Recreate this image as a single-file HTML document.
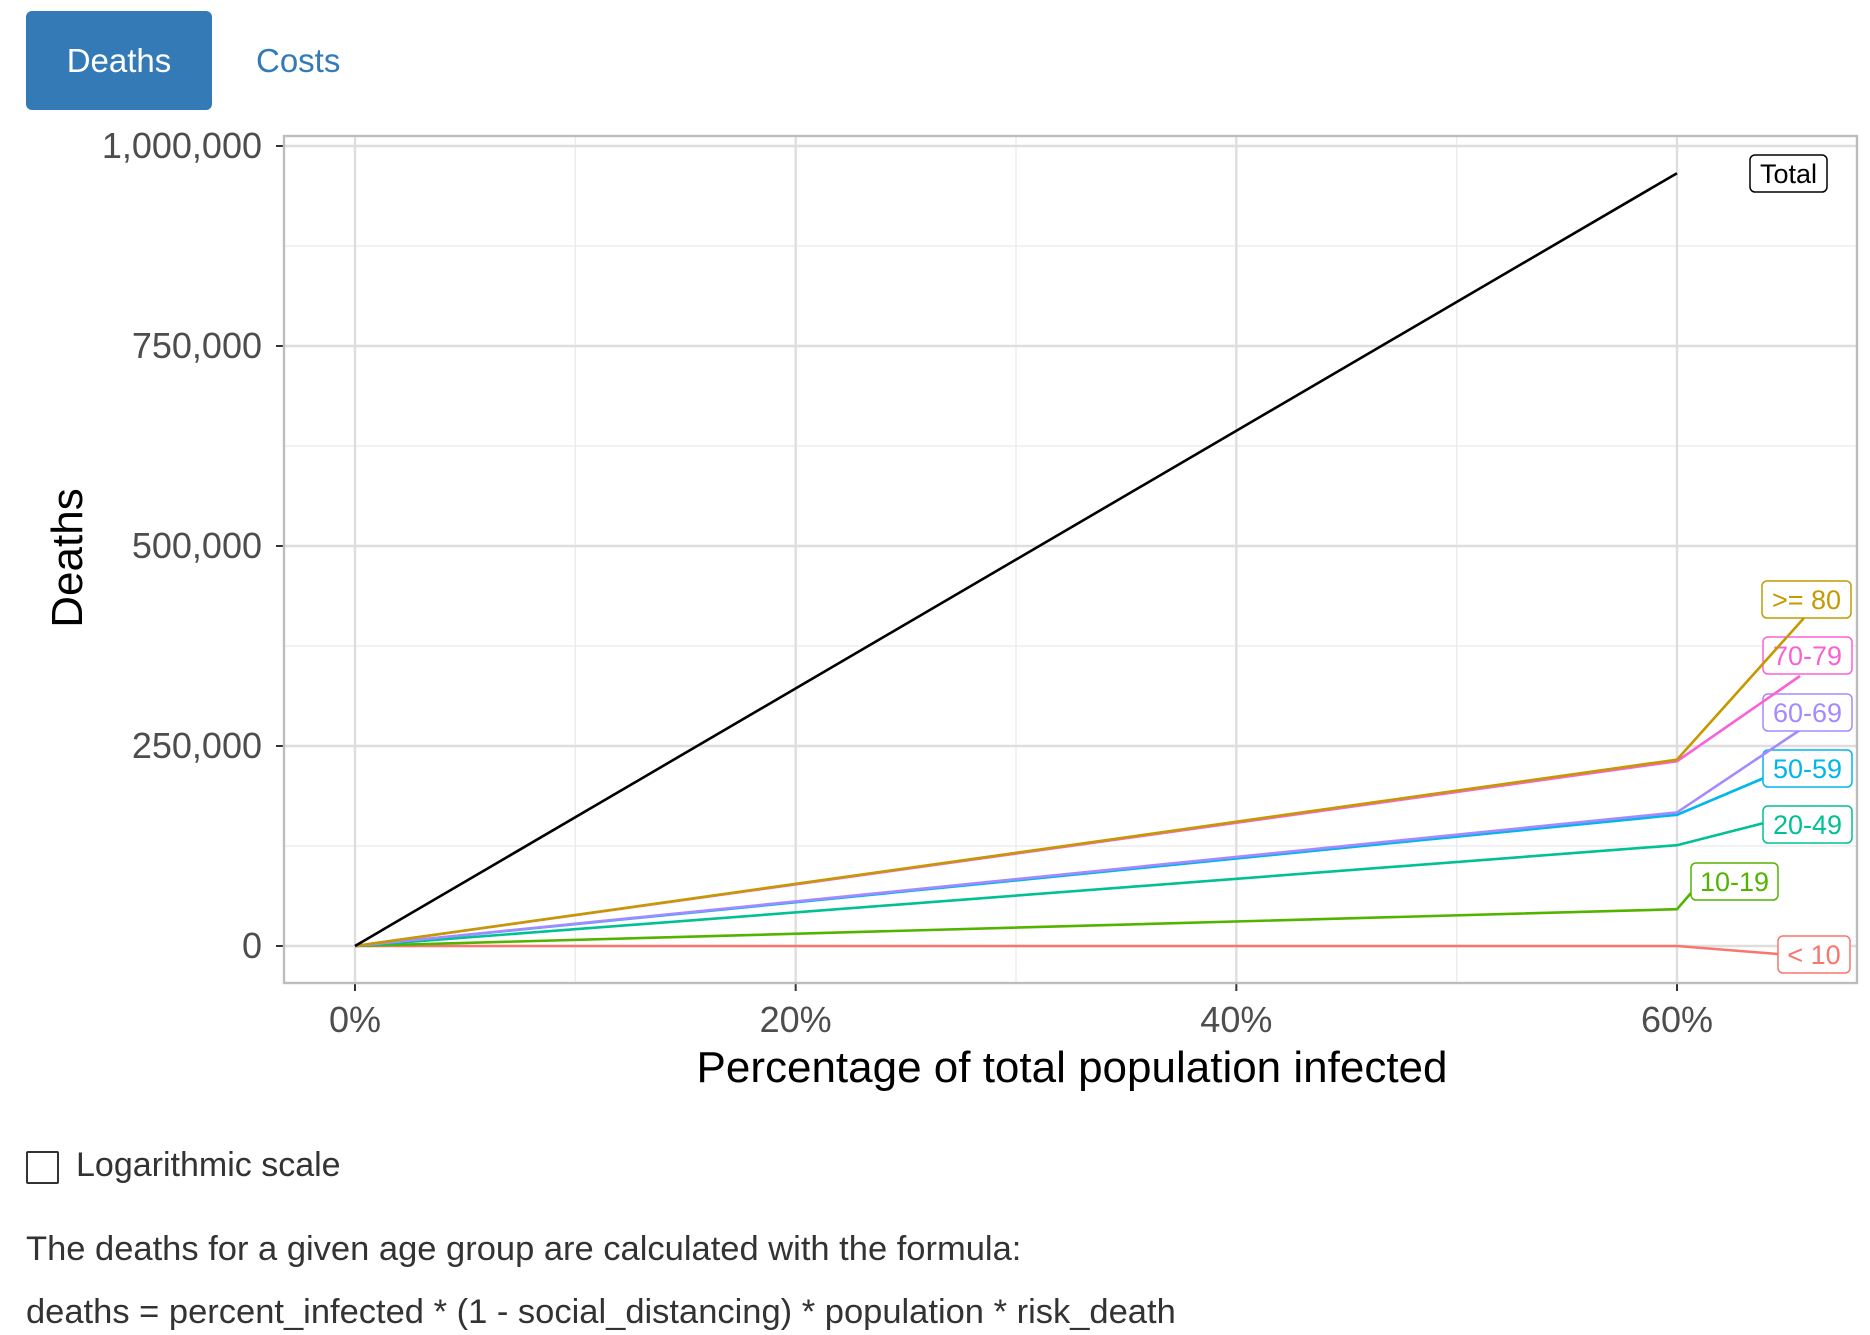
<!DOCTYPE html>
<html><head><meta charset="utf-8"><style>
body{margin:0;width:1870px;height:1335px;background:#fff;font-family:"Liberation Sans",sans-serif;position:relative;overflow:hidden}
.tab{position:absolute;font-size:33px}
</style></head><body>
<div class="tab" style="left:26px;top:11px;width:186px;height:99px;background:#337ab7;border-radius:6px;color:#fff;display:flex;align-items:center;justify-content:center">Deaths</div>
<div class="tab" style="left:256px;top:42px;color:#337ab7">Costs</div>
<svg id="chart" width="1870" height="1120" style="position:absolute;left:0;top:0" font-family="Liberation Sans, sans-serif"></svg>
<div style="position:absolute;left:26px;top:1151px;width:29px;height:29px;border:2px solid #333;border-radius:2px"></div>
<div style="position:absolute;left:76px;top:1146px;font-size:34px;color:#333">Logarithmic scale</div>
<div style="position:absolute;left:26px;top:1230px;font-size:34.5px;color:#333">The deaths for a given age group are calculated with the formula:</div>
<div style="position:absolute;left:26px;top:1293px;font-size:34.5px;color:#333">deaths = percent_infected * (1 - social_distancing) * population * risk_death</div>
<script>
const xTicks=[0,20,40,60];
const yTicks=[0,250000,500000,750000,1000000];
const groups=["Total",">= 80","70-79","60-69","50-59","20-49","10-19","< 10"];
const xVals=[0,60];
const endVals=[966000,233000,231000,167000,164000,126000,46000,0];
const colors=["#000","#C49A00","#FB61D7","#A58AFF","#00B6EB","#00C094","#53B400","#F8766D"];
// label layout (pixel positions, not data)
const labelBox=[[1750,155,77],[1762,581,89],[1763,637,89],[1763,694,89],[1763,750,89],[1763,806,89],[1691,863,87],[1778,936,72]];
const labelEnd=[null,[1804,618],[1800,676],[1800,730],[1764,778],[1764,823],[1691,893],[1778,954]];
const svg=document.getElementById('chart');
const NS="http://www.w3.org/2000/svg";
const L=284,T=136,R=1857,B=983;
const X=v=>355+v*(1677-355)/60;
const Y=v=>946-v*800/1000000;
function mk(t,a,p){const e=document.createElementNS(NS,t);for(const k in a)e.setAttribute(k,a[k]);(p||svg).appendChild(e);return e;}
let bg=mk('rect',{x:L,y:T,width:R-L,height:B-T,fill:'#fff'});


for(let v=125000;v<1100000;v+=250000){if(Y(v)>T)mk('line',{x1:L,x2:R,y1:Y(v),y2:Y(v),stroke:'#ebebeb','stroke-width':1.3});}
for(let v=10;v<70;v+=20){mk('line',{x1:X(v),x2:X(v),y1:T,y2:B,stroke:'#ebebeb','stroke-width':1.3});}
yTicks.forEach(v=>{mk('line',{x1:L,x2:R,y1:Y(v),y2:Y(v),stroke:'#dedede','stroke-width':2.4});
mk('line',{x1:L-8,x2:L,y1:Y(v),y2:Y(v),stroke:'#333','stroke-width':2});
const t=mk('text',{x:262,y:Y(v)+12,'text-anchor':'end','font-size':36,fill:'#4d4d4d'});t.textContent=v.toLocaleString('en-US');

});
xTicks.forEach(v=>{mk('line',{x1:X(v),x2:X(v),y1:T,y2:B,stroke:'#dedede','stroke-width':2.4});
mk('line',{x1:X(v),x2:X(v),y1:B,y2:B+8,stroke:'#333','stroke-width':2});
const t=mk('text',{x:X(v),y:1032,'text-anchor':'middle','font-size':36,fill:'#4d4d4d'});t.textContent=v+'%';

});
mk('rect',{x:L,y:T,width:R-L,height:B-T,fill:'none',stroke:'#bdbdbd','stroke-width':2.4});
for(let i=groups.length-1;i>=0;i--){
 const pts=xVals.map((x,j)=>X(x)+','+Y(j?endVals[i]:0));
 if(labelEnd[i])pts.push(labelEnd[i].join(','));
 const pl=mk('polyline',{points:pts.join(' '),fill:'none',stroke:colors[i],'stroke-width':2.6});
 
 
 const [bx,by,bw]=labelBox[i];
 const r=mk('rect',{x:bx,y:by,width:bw,height:37,rx:5,fill:'#fff',stroke:colors[i],'stroke-width':1.5});
 
 
 const t=mk('text',{x:bx+bw/2,y:by+28,'text-anchor':'middle','font-size':27,fill:colors[i]});t.textContent=groups[i];
 
 
}
const xt=mk('text',{x:1072,y:1082,'text-anchor':'middle','font-size':44,fill:'#000'});xt.textContent='Percentage of total population infected';


const yt=mk('text',{x:82,y:558,'text-anchor':'middle','font-size':44,fill:'#000',transform:'rotate(-90 82 558)'});yt.textContent='Deaths';


</script>
</body></html>
